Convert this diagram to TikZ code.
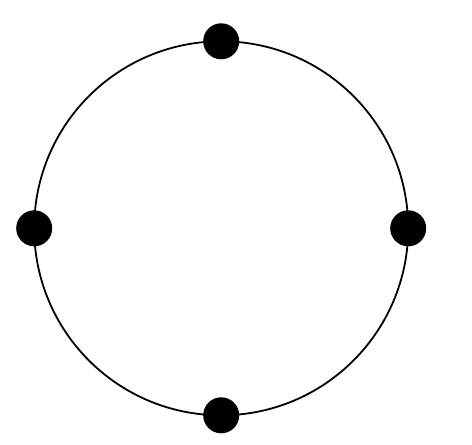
\documentclass[tikz,border=0pt]{standalone}
\begin{document}
\begin{tikzpicture}[x=1pt,y=1pt,
  ring/.style={draw=black,line width=1.8pt},
  dotnode/.style={circle,fill=black,minimum size=36pt,inner sep=0pt}]
\useasboundingbox (0,0) rectangle (472,445);
\coordinate (c) at (221.2,216.7);
\draw[ring] (c) circle[radius=187];
\node[dotnode] (top) at ([yshift=187]c) {};
\node[dotnode] (bottom) at ([yshift=-187]c) {};
\node[dotnode] (left) at ([xshift=-187]c) {};
\node[dotnode] (right) at ([xshift=187]c) {};
\end{tikzpicture}
\end{document}
